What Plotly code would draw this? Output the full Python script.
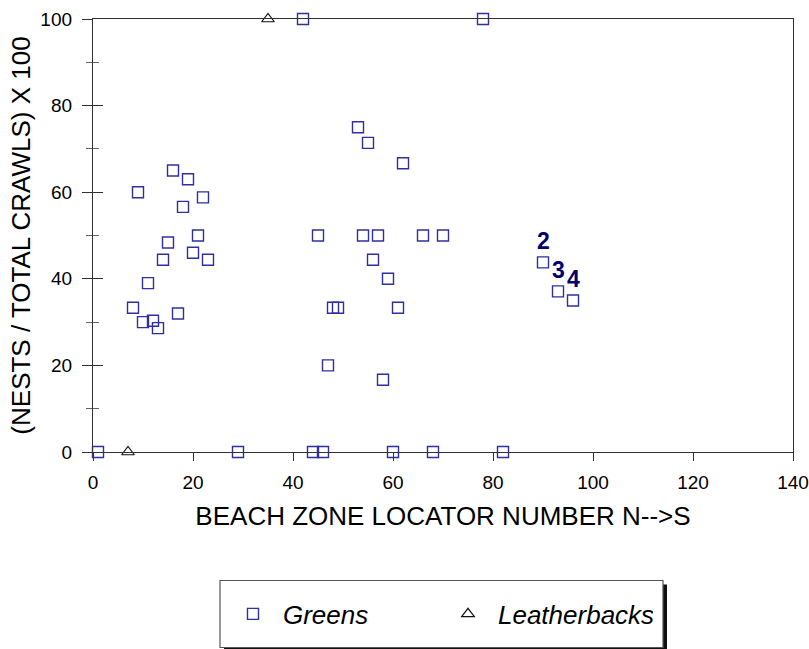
import plotly.graph_objects as go

# ---- data ----
greens_zone = [16, 19, 9, 22, 18, 21, 15, 20, 14, 23, 11, 8, 17, 10, 12, 13,
               53, 55, 62, 45, 54, 57, 66, 70, 56, 59, 48, 49, 61, 47, 58,
               1, 29, 44, 46, 60, 68, 82,
               42, 78,
               90, 93, 96]
greens_pct = [65, 63, 60, 58.8, 56.6, 50, 48.4, 46, 44.4, 44.4, 39, 33.3, 32, 30, 30.3, 28.6,
              75, 71.4, 66.7, 50, 50, 50, 50, 50, 44.4, 40, 33.3, 33.3, 33.3, 20, 16.7,
              0, 0, 0, 0, 0, 0, 0,
              100, 100,
              43.8, 37.1, 35]
leather_zone = [7, 35]
leather_pct = [0, 100]

label_index = [40, 41, 42]
label_text = ["2", "3", "4"]

x_ticks = [0, 20, 40, 60, 80, 100, 120, 140]
y_ticks = [0, 20, 40, 60, 80, 100]

FONT = "Arial, 'Liberation Sans', sans-serif"
GREEN_COL = "#2f2f9f"
AXIS_COL = "#303030"

fig = go.Figure()

fig.add_trace(go.Scatter(
    x=greens_zone, y=greens_pct, mode="markers", name="Greens",
    marker=dict(symbol="square-open", size=11, color=GREEN_COL, line=dict(width=1.4)),
    cliponaxis=False,
))
fig.add_trace(go.Scatter(
    x=leather_zone, y=leather_pct, mode="markers", name="Leatherbacks",
    marker=dict(symbol="triangle-up-open", size=11, color="#111111", line=dict(width=1.2)),
    cliponaxis=False,
))
# invisible trace to anchor the overlay axes (inner halves of the crossing ticks)
fig.add_trace(go.Scatter(x=[None], y=[None], xaxis="x2", yaxis="y2",
                         showlegend=False, hoverinfo="skip"))

annotations = [
    dict(x=greens_zone[i], y=greens_pct[i], text=t, showarrow=False, xref="x", yref="y",
         yshift=21, font=dict(family=FONT, size=23, color="#000070", weight="bold"))
    for i, t in zip(label_index, label_text)
]

fig.update_layout(
    width=809, height=649,
    margin=dict(l=93, r=16, t=19, b=197),
    paper_bgcolor="white", plot_bgcolor="white",
    font=dict(family=FONT, color="black"),
    showlegend=True,
    annotations=annotations,
    xaxis=dict(
        range=[0, 140], tickvals=x_ticks, ticks="outside", ticklen=8, tickwidth=1.2,
        tickcolor=AXIS_COL, showline=True, linecolor=AXIS_COL, linewidth=1.3, mirror=True,
        showgrid=False, zeroline=False, tickfont=dict(size=19, family=FONT),
        ticklabelstandoff=5, automargin=False,
        title=dict(text="BEACH ZONE LOCATOR NUMBER N-->S", font=dict(size=26, family=FONT), standoff=14),
    ),
    yaxis=dict(
        range=[0, 100], tickvals=y_ticks, ticks="outside", ticklen=10, tickwidth=1.2,
        tickcolor=AXIS_COL, showline=True, linecolor=AXIS_COL, linewidth=1.3, mirror=True,
        showgrid=False, zeroline=False, tickfont=dict(size=19, family=FONT),
        ticklabelstandoff=6, automargin=False,
        minor=dict(dtick=20, tick0=10, ticks="outside", ticklen=6, tickcolor="#666666", tickwidth=1),
        title=dict(text="(NESTS / TOTAL CRAWLS) X 100", font=dict(size=26, family=FONT), standoff=2),
    ),
    xaxis2=dict(range=[0, 140], overlaying="x", anchor="y2", showticklabels=False,
                showline=False, showgrid=False, zeroline=False, ticks="", automargin=False),
    yaxis2=dict(range=[0, 100], overlaying="y", anchor="x2", tickvals=y_ticks, ticks="inside",
                ticklen=10, tickwidth=1.2, tickcolor=AXIS_COL, showticklabels=False,
                showline=False, showgrid=False, zeroline=False, automargin=False,
                minor=dict(dtick=20, tick0=10, ticks="inside", ticklen=6, tickcolor="#666666", tickwidth=1)),
    legend=dict(
        orientation="h", x=0.1857, y=-0.374, xanchor="left", yanchor="middle",
        bgcolor="rgba(0,0,0,0)", borderwidth=0,
        font=dict(family=FONT, size=26, style="italic", color="black"),
        entrywidth=150, entrywidthmode="pixels", itemwidth=50,
    ),
    shapes=[
        dict(type="rect", xref="paper", yref="paper",
             x0=(224 - 93) / 700, x1=(667 - 93) / 700,
             y0=(451.5 - 651) / 433, y1=(451.5 - 584) / 433,
             fillcolor="#111111", line=dict(width=0), layer="below"),
        dict(type="rect", xref="paper", yref="paper",
             x0=(220 - 93) / 700, x1=(663 - 93) / 700,
             y0=(451.5 - 647) / 433, y1=(451.5 - 580) / 433,
             fillcolor="white", line=dict(color="#555555", width=1.2), layer="below"),
    ],
)

fig.write_html("out.html")
